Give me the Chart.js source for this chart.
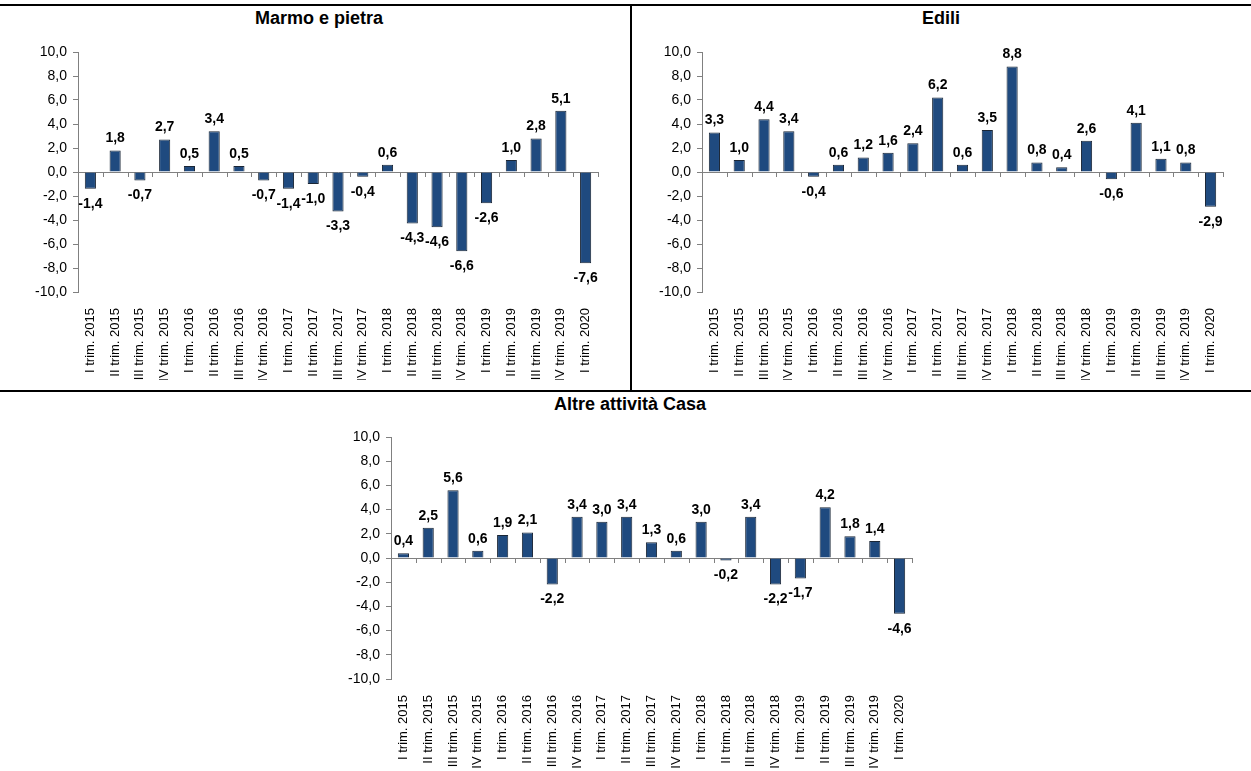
<!DOCTYPE html>
<html>
<head>
<meta charset="utf-8">
<script src="https://cdn.jsdelivr.net/npm/chart.js@4/dist/chart.umd.min.js"></script>
<style>
  body { margin: 0; background: #fff; width: 1251px; height: 771px; position: relative; overflow: hidden; font-family: "Liberation Sans", Arial, sans-serif; }
  .box { position: absolute; }
  .line { position: absolute; background: #000; }
  .title { position: absolute; font-weight: bold; font-size: 18px; line-height: 20px; text-align: center; color: #000; }
</style>
</head>
<body>
<div class="line" style="left:0;top:4px;width:1251px;height:2px"></div>
<div class="line" style="left:630px;top:4px;width:2px;height:388px"></div>
<div class="line" style="left:0;top:390px;width:1251px;height:2px"></div>

<div class="title" style="left:119px;top:8px;width:400px">Marmo e pietra</div>
<div class="title" style="left:741px;top:8px;width:400px">Edili</div>
<div class="title" style="left:430px;top:394px;width:400px">Altre attività Casa</div>

<div class="box" style="left:0;top:10px;width:630px;height:370px"><canvas id="c1"></canvas></div>
<div class="box" style="left:632px;top:10px;width:619px;height:370px"><canvas id="c2"></canvas></div>
<div class="box" style="left:300px;top:395px;width:651px;height:376px"><canvas id="c3"></canvas></div>

<script>
const quarters = [
  "I trim. 2015", "II trim. 2015", "III trim. 2015", "IV trim. 2015",
  "I trim. 2016", "II trim. 2016", "III trim. 2016", "IV trim. 2016",
  "I trim. 2017", "II trim. 2017", "III trim. 2017", "IV trim. 2017",
  "I trim. 2018", "II trim. 2018", "III trim. 2018", "IV trim. 2018",
  "I trim. 2019", "II trim. 2019", "III trim. 2019", "IV trim. 2019",
  "I trim. 2020"
];
const marmo = [-1.4, 1.8, -0.7, 2.7, 0.5, 3.4, 0.5, -0.7, -1.4, -1.0, -3.3, -0.4, 0.6, -4.3, -4.6, -6.6, -2.6, 1.0, 2.8, 5.1, -7.6];
const edili = [3.3, 1.0, 4.4, 3.4, -0.4, 0.6, 1.2, 1.6, 2.4, 6.2, 0.6, 3.5, 8.8, 0.8, 0.4, 2.6, -0.6, 4.1, 1.1, 0.8, -2.9];
const altre = [0.4, 2.5, 5.6, 0.6, 1.9, 2.1, -2.2, 3.4, 3.0, 3.4, 1.3, 0.6, 3.0, -0.2, 3.4, -2.2, -1.7, 4.2, 1.8, 1.4, -4.6];
const yMin = -10, yMax = 10, yStep = 2;

const fmt = v => v.toFixed(1).replace(".", ",");
const axisGray = "#808080";

// value labels + small x tick marks on the zero line
const extras = {
  id: "extras",
  afterDatasetsDraw(chart) {
    const ctx = chart.ctx;
    const xs = chart.scales.x, ys = chart.scales.y;
    const y0 = ys.getPixelForValue(0);
    const n = chart.data.labels.length;
    const step = (xs.getPixelForValue(1) - xs.getPixelForValue(0));
    ctx.save();
    ctx.strokeStyle = axisGray;
    ctx.lineWidth = 1;
    ctx.beginPath();
    for (let i = 0; i <= n; i++) {
      const x = Math.round(xs.getPixelForValue(i) - step / 2) + 0.5;
      ctx.moveTo(x, y0);
      ctx.lineTo(x, y0 + 5);
    }
    ctx.stroke();

    ctx.fillStyle = "#000";
    ctx.font = "bold 14px 'Liberation Sans Narrow', 'Liberation Sans', Arial, sans-serif";
    ctx.textAlign = "center";
    const data = chart.data.datasets[0].data;
    chart.getDatasetMeta(0).data.forEach((bar, i) => {
      const v = data[i];
      if (v >= 0) {
        ctx.textBaseline = "bottom";
        ctx.fillText(fmt(v), bar.x, bar.y - 5);
      } else {
        ctx.textBaseline = "top";
        ctx.fillText(fmt(v), bar.x, bar.y + 8);
      }
    });
    ctx.restore();
  }
};

function makeChart(id, values, yWidth, xHeight, padRight) {
  return new Chart(document.getElementById(id), {
    type: "bar",
    data: {
      labels: quarters,
      datasets: [{
        data: values,
        backgroundColor: "#1f4a7f",
        borderColor: "#1a2636",
        borderWidth: 1,
        categoryPercentage: 1,
        barPercentage: 0.45
      }]
    },
    options: {
      responsive: true,
      maintainAspectRatio: false,
      animation: false,
      layout: { padding: { top: 42, right: padRight, bottom: 0, left: 0 } },
      plugins: { legend: { display: false }, tooltip: { enabled: false } },
      scales: {
        x: {
          grid: { display: false },
          border: { display: false },
          ticks: {
            autoSkip: false,
            maxRotation: 90,
            minRotation: 90,
            padding: 8,
            color: "#000",
            font: { family: "'Liberation Sans', Arial, sans-serif", size: 13 }
          },
          afterFit(scale) { scale.height = xHeight; }
        },
        y: {
          min: yMin,
          max: yMax,
          ticks: {
            stepSize: yStep,
            padding: 6,
            color: "#000",
            font: { family: "'Liberation Sans', Arial, sans-serif", size: 14 },
            callback: v => fmt(v)
          },
          grid: {
            color: c => (c.tick && c.tick.value === 0 ? axisGray : "transparent"),
            tickColor: axisGray,
            tickLength: 5
          },
          border: { display: true, color: axisGray },
          afterFit(scale) { scale.width = yWidth; }
        }
      }
    },
    plugins: [extras]
  });
}

makeChart("c1", marmo, 78, 88, 32);
makeChart("c2", edili, 70, 88, 28);
makeChart("c3", altre, 91, 92, 39);
</script>
</body>
</html>
